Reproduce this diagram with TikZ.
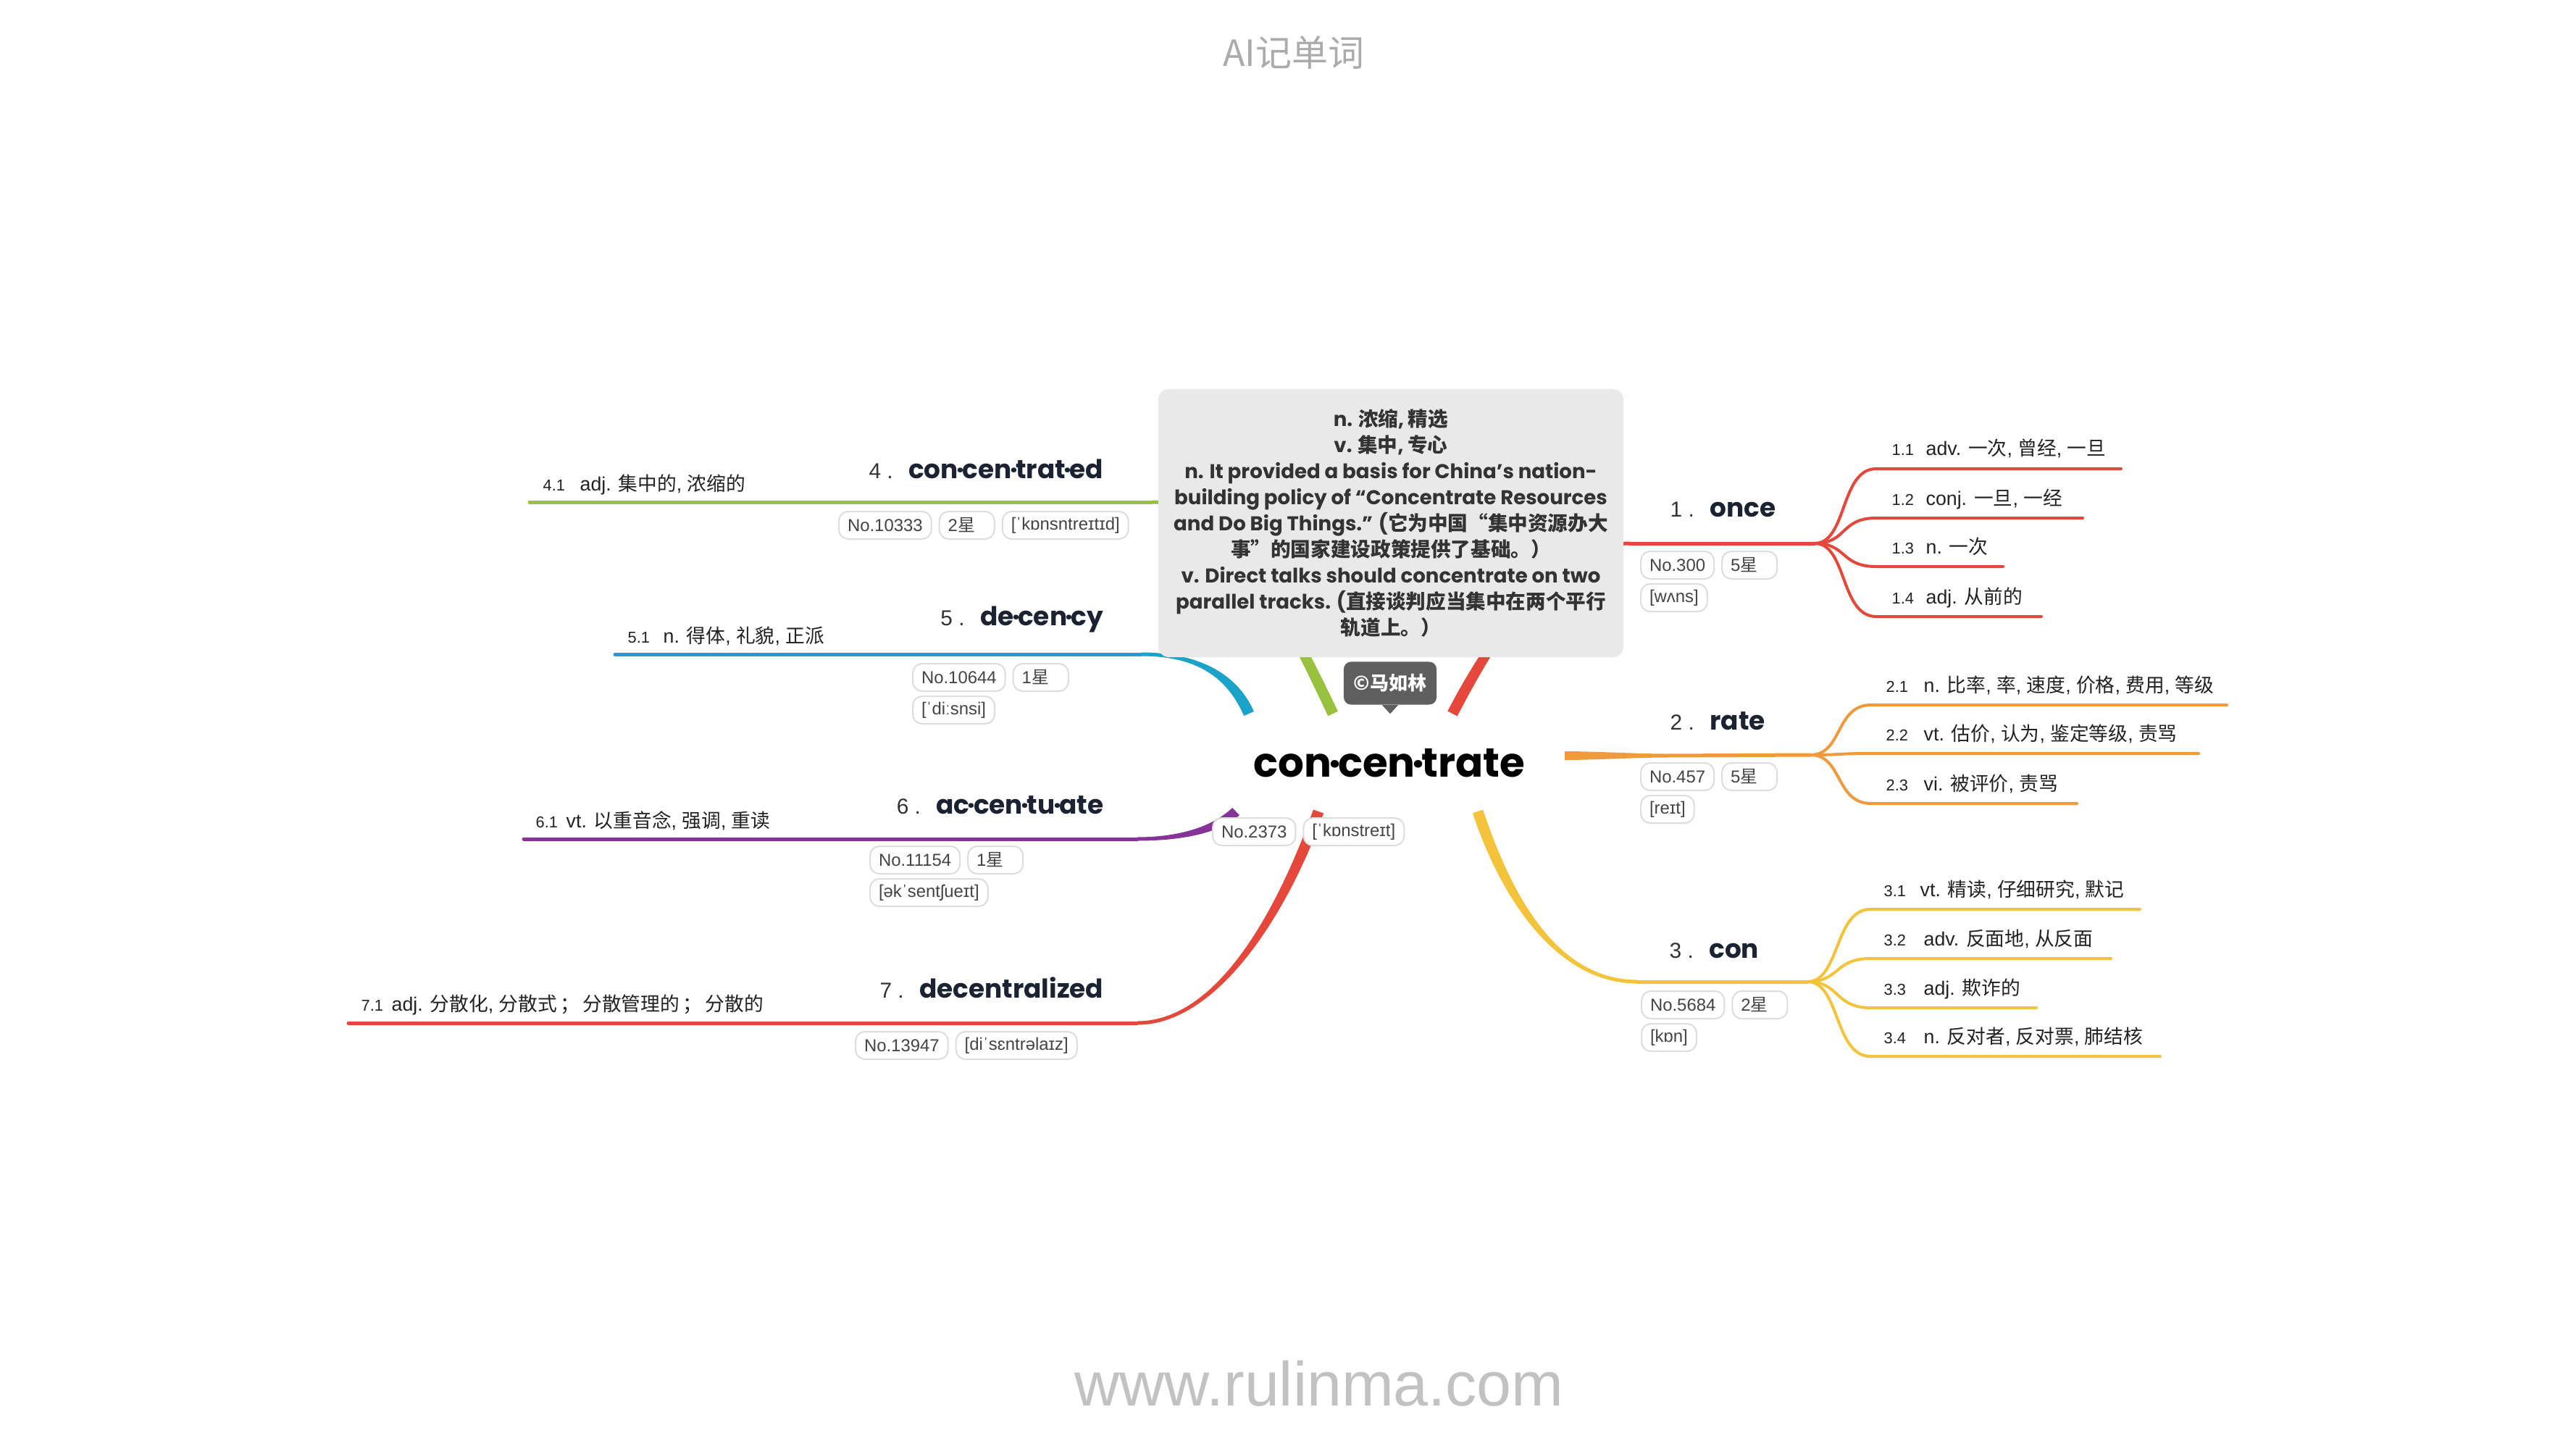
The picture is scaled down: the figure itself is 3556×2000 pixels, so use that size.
\documentclass[tikz,border=0pt]{standalone}
\usepackage{fontspec}
\setmainfont{Liberation Sans}
\newfontfamily\hd{Poppins}
\newfontfamily\cjk{Noto Sans CJK SC}
\newcommand\zh[1]{{\cjk #1}}
\newcommand\md{\kern-0.07em·\kern-0.07em}
\usetikzlibrary{calc}
\definecolor{cRed}{HTML}{E5483B}
\definecolor{cOrange}{HTML}{EE9A3D}
\definecolor{cYellow}{HTML}{F4C33C}
\definecolor{cGreen}{HTML}{97C13E}
\definecolor{cBlue}{HTML}{1AA2C8}
\definecolor{cPurple}{HTML}{86349A}
\definecolor{headtext}{HTML}{1B2333}
\definecolor{leaftext}{HTML}{222222}
\definecolor{numtext}{HTML}{333333}
\definecolor{tagtext}{HTML}{444444}
\definecolor{tagline}{HTML}{DDDDDD}
\definecolor{notefill}{HTML}{E9E9E9}
\definecolor{notetext}{HTML}{333333}
\definecolor{badgefill}{HTML}{5F5F5F}
\definecolor{titlegray}{HTML}{ABABAB}
\definecolor{urlgray}{HTML}{C2C2C2}
% tapered branch: colour, P0, P1, P2, P3, half width at start, half width at end
\newcommand\brtaper[7]{\fill[#1] ($#2!#6!90:#3$) .. controls ($#3!#6!-90:#2$) and ($#4!#7!90:#5$) .. ($#5!#7!-90:#4$) -- ($#5!#7!90:#4$) .. controls ($#4!#7!-90:#5$) and ($#3!#6!90:#2$) .. ($#2!#6!-90:#3$) -- cycle;}
\begin{document}
\begin{tikzpicture}[x=0.01cm,y=-0.01cm,
  tag/.style={draw=tagline, fill=white, rounded corners=0.13cm, line width=0.02cm, inner xsep=0.12cm, inner ysep=0pt, minimum height=0.38cm, font=\fontsize{6.8}{8}\selectfont, text=tagtext, anchor=north west},
  startag/.style={tag, text width=0.52cm, align=left},
  leafnum/.style={font=\fontsize{6.2}{7}\selectfont, text=leaftext, inner sep=0pt, anchor=base west},
  leaf/.style={font=\fontsize{7.6}{9}\selectfont, text=leaftext, inner sep=0pt, anchor=base west},
  mnum/.style={font=\fontsize{8.5}{10}\selectfont, text=numtext, inner sep=0pt},
  mword/.style={font=\hd\bfseries\fontsize{10.2}{12}\selectfont, text=headtext, inner sep=0pt},
  br/.style={line width=0.05cm, line cap=round},
  sub/.style={line width=0.04cm, line cap=round},
  notebox/.style={fill=notefill, rounded corners=0.15cm, minimum width=6.42cm, minimum height=3.70cm, align=center, font=\hd\bfseries\fontsize{7.85}{10.24}\selectfont, text=notetext, inner sep=0pt},
  badge/.style={fill=badgefill, rounded corners=0.1cm, minimum width=1.28cm, minimum height=0.59cm, inner sep=0pt, text=white, font=\cjk\bfseries\fontsize{7.4}{9}\selectfont}
]
\fill[white] (0,0) rectangle (3556,2000);
\useasboundingbox (0,0) rectangle (3556,2000);

% ---------- coordinates ----------
\coordinate (r1a) at (2005,985); \coordinate (r1b) at (2250,750); \coordinate (j1) at (2505,750);
\coordinate (r2a) at (2160,1043); \coordinate (r2b) at (2300,1043); \coordinate (j2) at (2499,1042);
\coordinate (r3a) at (2040,1120); \coordinate (r3b) at (2260,1355); \coordinate (j3) at (2495,1355);
\coordinate (l4a) at (1840,985); \coordinate (l4b) at (1590,693); \coordinate (l4e) at (731,693);
\coordinate (l5a) at (1724,985); \coordinate (l5b) at (1575,903); \coordinate (l5e) at (849,903);
\coordinate (l6a) at (1706,1120); \coordinate (l6b) at (1570,1158); \coordinate (l6e) at (723,1158);
\coordinate (l7a) at (1820,1120); \coordinate (l7b) at (1570,1412); \coordinate (l7e) at (481,1412);

% ---------- main branches ----------
\brtaper{cRed}{(r1a)}{(2070,860)}{(2150,750)}{(r1b)}{0.075cm}{0.025cm}
\draw[br,cRed] (r1b) -- (j1);
\brtaper{cOrange}{(r2a)}{(2200,1043)}{(2260,1043)}{(r2b)}{0.06cm}{0.025cm}
\draw[br,cOrange] (r2b) -- (j2);
\brtaper{cYellow}{(r3a)}{(2080,1240)}{(2150,1355)}{(r3b)}{0.075cm}{0.025cm}
\draw[br,cYellow] (r3b) -- (j3);
\brtaper{cGreen}{(l4a)}{(1755,805)}{(1690,693)}{(l4b)}{0.075cm}{0.025cm}
\draw[br,cGreen] (l4b) -- (l4e);
\brtaper{cBlue}{(l5a)}{(1700,930)}{(1650,903)}{(l5b)}{0.075cm}{0.025cm}
\draw[br,cBlue] (l5b) -- (l5e);
\brtaper{cPurple}{(l6a)}{(1680,1145)}{(1630,1158)}{(l6b)}{0.07cm}{0.025cm}
\draw[br,cPurple] (l6b) -- (l6e);
\brtaper{cRed}{(l7a)}{(1770,1260)}{(1680,1412)}{(l7b)}{0.075cm}{0.025cm}
\draw[br,cRed] (l7b) -- (l7e);

% ---------- sub branches ----------
\coordinate (s11) at (2590,647); \coordinate (e11) at (2928,647);
\coordinate (s12) at (2590,715); \coordinate (e12) at (2875,715);
\coordinate (s13) at (2590,782); \coordinate (e13) at (2765,782);
\coordinate (s14) at (2590,851); \coordinate (e14) at (2818,851);
\draw[sub,cRed] (j1) .. controls +(45,0) and +(-50,0) .. (s11) -- (e11);
\draw[sub,cRed] (j1) .. controls +(45,0) and +(-50,0) .. (s12) -- (e12);
\draw[sub,cRed] (j1) .. controls +(45,0) and +(-50,0) .. (s13) -- (e13);
\draw[sub,cRed] (j1) .. controls +(45,0) and +(-50,0) .. (s14) -- (e14);
\coordinate (s21) at (2583,973); \coordinate (e21) at (3074,973);
\coordinate (s22) at (2583,1040); \coordinate (e22) at (3035,1040);
\coordinate (s23) at (2583,1109); \coordinate (e23) at (2867,1109);
\draw[sub,cOrange] (j2) .. controls +(45,0) and +(-50,0) .. (s21) -- (e21);
\draw[sub,cOrange] (j2) .. controls +(45,0) and +(-50,0) .. (s22) -- (e22);
\draw[sub,cOrange] (j2) .. controls +(45,0) and +(-50,0) .. (s23) -- (e23);
\coordinate (s31) at (2582,1255); \coordinate (e31) at (2954,1255);
\coordinate (s32) at (2582,1323); \coordinate (e32) at (2914,1323);
\coordinate (s33) at (2582,1391); \coordinate (e33) at (2811,1391);
\coordinate (s34) at (2582,1458); \coordinate (e34) at (2982,1458);
\draw[sub,cYellow] (j3) .. controls +(45,0) and +(-50,0) .. (s31) -- (e31);
\draw[sub,cYellow] (j3) .. controls +(45,0) and +(-50,0) .. (s32) -- (e32);
\draw[sub,cYellow] (j3) .. controls +(45,0) and +(-50,0) .. (s33) -- (e33);
\draw[sub,cYellow] (j3) .. controls +(45,0) and +(-50,0) .. (s34) -- (e34);

% ---------- note box, badge, root ----------
\node[notebox] (note) at (1920,722) {n. \zh{浓缩}, \zh{精选}\\
v. \zh{集中}, \zh{专心}\\
n. It provided a basis for China’s nation-\\
building policy of “Concentrate Resources\\
and Do Big Things.” (\zh{它为中国“集中资源办大}\\
\zh{事”的国家建设政策提供了基础。）}\\
v. Direct talks should concentrate on two\\
parallel tracks. (\zh{直接谈判应当集中在两个平行}\\
\zh{轨道上。）}};
\node[badge] (badge) at (1919,943) {©马如林};
\fill[badgefill] ([xshift=-0.11cm]badge.south) -- ([yshift=-0.12cm]badge.south) -- ([xshift=0.11cm]badge.south) -- cycle;
\node[font=\hd\bfseries\fontsize{16}{18}\selectfont, text=black, inner sep=0pt, anchor=base] (root) at (1918,1072) {con\md cen\md trate};
\node[tag] (g0a) at (1673,1128) {No.2373};
\node[tag] (g0b) at ([xshift=0.09cm]g0a.north east) {[ˈkɒnstreɪt]};

% ---------- right main labels ----------
\node[mnum, anchor=base west] (m1n) at (2305,713) {1 .};
\node[mword, anchor=base west] (m1w) at ([xshift=0.2cm]m1n.base east) {once};
\node[tag] (g1a) at (2264,760) {No.300};
\node[startag] (g1b) at ([xshift=0.09cm]g1a.north east) {5\zh{星}};
\node[tag] (g1c) at ([yshift=-0.05cm]g1a.south west) {[wʌns]};

\node[mnum, anchor=base west] (m2n) at (2305,1007) {2 .};
\node[mword, anchor=base west] (m2w) at ([xshift=0.2cm]m2n.base east) {rate};
\node[tag] (g2a) at (2264,1052) {No.457};
\node[startag] (g2b) at ([xshift=0.09cm]g2a.north east) {5\zh{星}};
\node[tag] (g2c) at ([yshift=-0.05cm]g2a.south west) {[reɪt]};

\node[mnum, anchor=base west] (m3n) at (2304,1322) {3 .};
\node[mword, anchor=base west] (m3w) at ([xshift=0.2cm]m3n.base east) {con};
\node[tag] (g3a) at (2265,1367) {No.5684};
\node[startag] (g3b) at ([xshift=0.09cm]g3a.north east) {2\zh{星}};
\node[tag] (g3c) at ([yshift=-0.05cm]g3a.south west) {[kɒn]};

% ---------- right leaves ----------
\node[leafnum] (n11) at (2611,628) {1.1};
\node[leaf] (t11) at (2658,628) {adv. \zh{一次}, \zh{曾经}, \zh{一旦}};
\node[leafnum] (n12) at (2611,697) {1.2};
\node[leaf] (t12) at (2658,697) {conj. \zh{一旦}, \zh{一经}};
\node[leafnum] (n13) at (2611,764) {1.3};
\node[leaf] (t13) at (2658,764) {n. \zh{一次}};
\node[leafnum] (n14) at (2611,833) {1.4};
\node[leaf] (t14) at (2658,833) {adj. \zh{从前的}};

\node[leafnum] (n21) at (2603,955) {2.1};
\node[leaf] (t21) at (2655,955) {n. \zh{比率}, \zh{率}, \zh{速度}, \zh{价格}, \zh{费用}, \zh{等级}};
\node[leafnum] (n22) at (2603,1022) {2.2};
\node[leaf] (t22) at (2655,1022) {vt. \zh{估价}, \zh{认为}, \zh{鉴定等级}, \zh{责骂}};
\node[leafnum] (n23) at (2603,1091) {2.3};
\node[leaf] (t23) at (2655,1091) {vi. \zh{被评价}, \zh{责骂}};

\node[leafnum] (n31) at (2600,1237) {3.1};
\node[leaf] (t31) at (2650,1237) {vt. \zh{精读}, \zh{仔细研究}, \zh{默记}};
\node[leafnum] (n32) at (2600,1305) {3.2};
\node[leaf] (t32) at (2655,1305) {adv. \zh{反面地}, \zh{从反面}};
\node[leafnum] (n33) at (2600,1373) {3.3};
\node[leaf] (t33) at (2655,1373) {adj. \zh{欺诈的}};
\node[leafnum] (n34) at (2600,1440) {3.4};
\node[leaf] (t34) at (2655,1440) {n. \zh{反对者}, \zh{反对票}, \zh{肺结核}};

% ---------- left main labels ----------
\node[mword, anchor=base east] (m4w) at (1524,660) {con\md cen\md trat\md ed};
\node[mnum, anchor=base east] (m4n) at ([xshift=-0.2cm]m4w.base west) {4 .};
\node[tag] (g4a) at (1157,705) {No.10333};
\node[startag] (g4b) at ([xshift=0.09cm]g4a.north east) {2\zh{星}};
\node[tag] (g4c) at ([xshift=0.09cm]g4b.north east) {[ˈkɒnsntreɪtɪd]};

\node[mword, anchor=base east] (m5w) at (1524,863) {de\md cen\md cy};
\node[mnum, anchor=base east] (m5n) at ([xshift=-0.2cm]m5w.base west) {5 .};
\node[tag] (g5a) at (1259,915) {No.10644};
\node[startag] (g5b) at ([xshift=0.09cm]g5a.north east) {1\zh{星}};
\node[tag] (g5c) at ([yshift=-0.05cm]g5a.south west) {[ˈdiːsnsi]};

\node[mword, anchor=base east] (m6w) at (1524,1123) {ac\md cen\md tu\md ate};
\node[mnum, anchor=base east] (m6n) at ([xshift=-0.2cm]m6w.base west) {6 .};
\node[tag] (g6a) at (1200,1167) {No.11154};
\node[startag] (g6b) at ([xshift=0.09cm]g6a.north east) {1\zh{星}};
\node[tag] (g6c) at ([yshift=-0.05cm]g6a.south west) {[əkˈsentʃueɪt]};

\node[mword, anchor=base east] (m7w) at (1524,1377) {decentralized};
\node[mnum, anchor=base east] (m7n) at ([xshift=-0.2cm]m7w.base west) {7 .};
\node[tag] (g7a) at (1180,1423) {No.13947};
\node[tag] (g7b) at ([xshift=0.09cm]g7a.north east) {[diˈsɛntrəlaɪz]};

% ---------- left leaves ----------
\node[leafnum] (n41) at (749,677) {4.1};
\node[leaf] (t41) at (800,677) {adj. \zh{集中的}, \zh{浓缩的}};
\node[leafnum] (n51) at (866,887) {5.1};
\node[leaf] (t51) at (915,887) {n. \zh{得体}, \zh{礼貌}, \zh{正派}};
\node[leafnum] (n61) at (739,1142) {6.1};
\node[leaf] (t61) at (781,1142) {vt. \zh{以重音念}, \zh{强调}, \zh{重读}};
\node[leafnum] (n71) at (498,1395) {7.1};
\node[leaf] (t71) at (540,1395) {adj. \zh{分散化}, \zh{分散式}\,\zh{；}\,\zh{分散管理的}\,\zh{；}\,\zh{分散的}};

% ---------- title and footer ----------
\node[font=\cjk\fontsize{14.2}{16}\selectfont, text=titlegray, inner sep=0pt, anchor=base] (title) at (1786,92) {AI记单词};
\node[font=\fontsize{24.5}{28}\selectfont, text=urlgray, inner sep=0pt, anchor=base] (url) at (1821,1940) {www.rulinma.com};
\end{tikzpicture}
\end{document}
